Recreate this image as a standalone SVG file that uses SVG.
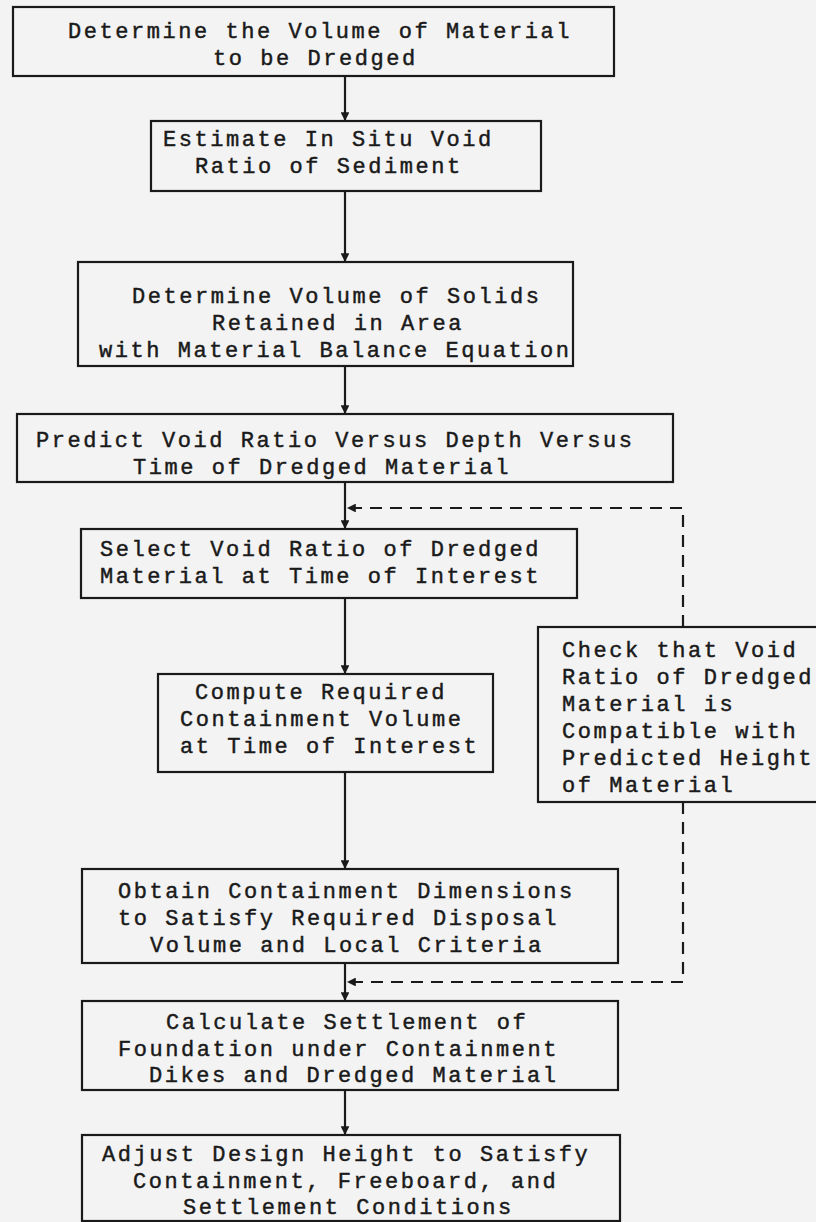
<svg xmlns="http://www.w3.org/2000/svg" width="816" height="1222" viewBox="0 0 816 1222">
<defs>
<style>
.box{fill:none;stroke:#1a1a1a;stroke-width:2.2}
.t{font-family:"Liberation Mono","Courier New",monospace;font-size:22px;letter-spacing:2.55px;fill:#1a1a1a;stroke:#1a1a1a;stroke-width:0.45}
.c{stroke:#1a1a1a;stroke-width:2.2;fill:none}
.d{stroke:#1a1a1a;stroke-width:2.2;fill:none;stroke-dasharray:12 8}
</style>
<marker id="ah" viewBox="0 0 10 10" refX="10" refY="5" markerWidth="4" markerHeight="4" orient="auto" markerUnits="strokeWidth">
<path d="M0,0 L10,5 L0,10 Z" fill="#1a1a1a"/>
</marker>
</defs>
<rect x="0" y="0" width="816" height="1222" fill="#f3f3f3"/>
<g id="connectors">
<line class="c" x1="345" y1="76" x2="345" y2="121" marker-end="url(#ah)"/>
<line class="c" x1="345" y1="191" x2="345" y2="262" marker-end="url(#ah)"/>
<line class="c" x1="345" y1="366" x2="345" y2="414" marker-end="url(#ah)"/>
<line class="c" x1="345" y1="482" x2="345" y2="529" marker-end="url(#ah)"/>
<line class="c" x1="345" y1="598" x2="345" y2="674" marker-end="url(#ah)"/>
<line class="c" x1="345" y1="772" x2="345" y2="869" marker-end="url(#ah)"/>
<line class="c" x1="345" y1="963" x2="345" y2="1001" marker-end="url(#ah)"/>
<line class="c" x1="345" y1="1090" x2="345" y2="1135" marker-end="url(#ah)"/>
<path class="d" d="M683,627 L683,508 L347,508" marker-end="url(#ah)"/>
<path class="d" d="M683,802 L683,982 L347,982" marker-end="url(#ah)"/>
</g>
<g id="n1">
<rect class="box" x="13" y="7" width="601" height="69"/>
<text class="t" x="68" y="38">Determine the Volume of Material</text>
<text class="t" x="213" y="65">to be Dredged</text>
</g>
<g id="n2">
<rect class="box" x="151" y="121" width="390" height="70"/>
<text class="t" x="163" y="146">Estimate In Situ Void</text>
<text class="t" x="195" y="173">Ratio of Sediment</text>
</g>
<g id="n3">
<rect class="box" x="78" y="262" width="495" height="104"/>
<text class="t" x="132" y="303">Determine Volume of Solids</text>
<text class="t" x="212" y="330">Retained in Area</text>
<text class="t" x="99" y="357">with Material Balance Equation</text>
</g>
<g id="n4">
<rect class="box" x="17" y="414" width="656" height="68"/>
<text class="t" x="36" y="447">Predict Void Ratio Versus Depth Versus</text>
<text class="t" x="133" y="474">Time of Dredged Material</text>
</g>
<g id="n5">
<rect class="box" x="81" y="529" width="496" height="69"/>
<text class="t" x="100" y="556">Select Void Ratio of Dredged</text>
<text class="t" x="100" y="583">Material at Time of Interest</text>
</g>
<g id="n6">
<rect class="box" x="538" y="627" width="290" height="175"/>
<text class="t" x="562" y="657">Check that Void</text>
<text class="t" x="562" y="684">Ratio of Dredged</text>
<text class="t" x="562" y="711">Material is</text>
<text class="t" x="562" y="738">Compatible with</text>
<text class="t" x="562" y="765">Predicted Height</text>
<text class="t" x="562" y="792">of Material</text>
</g>
<g id="n7">
<rect class="box" x="158" y="674" width="335" height="98"/>
<text class="t" x="195" y="699">Compute Required</text>
<text class="t" x="180" y="726">Containment Volume</text>
<text class="t" x="180" y="753">at Time of Interest</text>
</g>
<g id="n8">
<rect class="box" x="82" y="869" width="536" height="94"/>
<text class="t" x="118" y="898">Obtain Containment Dimensions</text>
<text class="t" x="118" y="925">to Satisfy Required Disposal</text>
<text class="t" x="150" y="952">Volume and Local Criteria</text>
</g>
<g id="n9">
<rect class="box" x="82" y="1001" width="536" height="89"/>
<text class="t" x="166" y="1029">Calculate Settlement of</text>
<text class="t" x="118" y="1056">Foundation under Containment</text>
<text class="t" x="149" y="1082">Dikes and Dredged Material</text>
</g>
<g id="n10">
<rect class="box" x="82" y="1135" width="538" height="86"/>
<text class="t" x="102" y="1161">Adjust Design Height to Satisfy</text>
<text class="t" x="133" y="1188">Containment, Freeboard, and</text>
<text class="t" x="183" y="1214">Settlement Conditions</text>
</g>
</svg>
